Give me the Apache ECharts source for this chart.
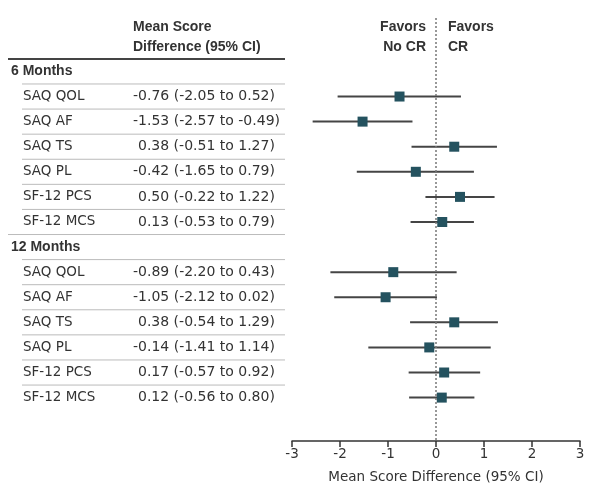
<!DOCTYPE html>
<html>
<head>
<meta charset="utf-8">
<script src="https://cdn.jsdelivr.net/npm/echarts@6/dist/echarts.min.js"></script>
<style>
    html, body { margin: 0; padding: 0; background: #fff; }
    #chart { width: 603px; height: 501px; }
</style>
</head>
<body>
<div id="chart"></div>
<script>
// data
var groups = ['6 Months', '12 Months'];
var measures = ['SAQ QOL', 'SAQ AF', 'SAQ TS', 'SAQ PL', 'SF-12 PCS', 'SF-12 MCS'];
var mean6 = [-0.76, -1.53, 0.38, -0.42, 0.50, 0.13];
var low6 = [-2.05, -2.57, -0.51, -1.65, -0.22, -0.53];
var high6 = [0.52, -0.49, 1.27, 0.79, 1.22, 0.79];
var mean12 = [-0.89, -1.05, 0.38, -0.14, 0.17, 0.12];
var low12 = [-2.20, -2.12, -0.54, -1.41, -0.57, -0.56];
var high12 = [0.43, 0.02, 1.29, 1.14, 0.92, 0.80];
var xMin = -3, xMax = 3, xStep = 1;

var REG = 'DejaVu Sans', BOLD = 'Liberation Sans', TXT = '#333';

// rows: group header then its measures
var rows = [];
var sets = [[mean6, low6, high6], [mean12, low12, high12]];
for (var g = 0; g < groups.length; g++) {
    rows.push({ kind: 'group', label: groups[g], first: g === 0 });
    for (var m = 0; m < measures.length; m++) {
        rows.push({ kind: 'item', label: measures[m], mean: sets[g][0][m], lo: sets[g][1][m], hi: sets[g][2][m] });
    }
}
var yLo = -2.13, yHi = rows.length - 1 + 1.73;

function fmt(v) { return (v < 0 ? '-' : '') + Math.abs(v).toFixed(2); }

var plotData = [], tableData = [];
rows.forEach(function (r, i) {
    tableData.push([0, i]);
    if (r.kind === 'item') plotData.push([r.mean, i, r.lo, r.hi]);
});

var chart = echarts.init(document.getElementById('chart'));

chart.setOption({
    animation: false,
    grid: [
        { left: 292, right: 23, top: 18, bottom: 60 },
        { left: 8, width: 277, top: 18, bottom: 60 }
    ],
    xAxis: [{
        gridIndex: 0, type: 'value', min: xMin, max: xMax, interval: xStep,
        axisLine: { onZero: false, lineStyle: { color: '#333', width: 1.5 } },
        axisTick: { length: 6, lineStyle: { color: '#333', width: 1.5 } },
        axisLabel: { color: TXT, fontFamily: REG, fontSize: 13.5, margin: 6 },
        splitLine: { show: false },
        name: 'Mean Score Difference (95% CI)', nameLocation: 'middle', nameGap: 29,
        nameTextStyle: { color: TXT, fontFamily: REG, fontSize: 13.5 }
    }, {
        gridIndex: 1, type: 'value', min: 0, max: 277, show: false
    }],
    yAxis: [
        { gridIndex: 0, type: 'value', min: yLo, max: yHi, inverse: true, show: false },
        { gridIndex: 1, type: 'value', min: yLo, max: yHi, inverse: true, show: false }
    ],
    graphic: [
        { type: 'text', left: 133, top: 20, style: { text: 'Mean Score', font: 'bold 14px ' + BOLD, fill: TXT } },
        { type: 'text', left: 133, top: 40, style: { text: 'Difference (95% CI)', font: 'bold 14px ' + BOLD, fill: TXT } },
        { type: 'text', right: 603 - 426, top: 20, style: { text: 'Favors', font: 'bold 14px ' + BOLD, fill: TXT, align: 'right' } },
        { type: 'text', right: 603 - 426, top: 40, style: { text: 'No CR', font: 'bold 14px ' + BOLD, fill: TXT, align: 'right' } },
        { type: 'text', left: 448, top: 20, style: { text: 'Favors', font: 'bold 14px ' + BOLD, fill: TXT } },
        { type: 'text', left: 448, top: 40, style: { text: 'CR', font: 'bold 14px ' + BOLD, fill: TXT } }
    ],
    series: [{
        // no-effect reference line at 0
        type: 'line', xAxisIndex: 0, yAxisIndex: 0,
        data: [[0, yLo], [0, yHi]], symbol: 'none', silent: true,
        lineStyle: { color: '#777', width: 1.5, type: [2, 2] }
    }, {
        type: 'custom', xAxisIndex: 0, yAxisIndex: 0,
        data: plotData,
        renderItem: function (params, api) {
            var c = api.coord([api.value(0), api.value(1)]);
            var a = api.coord([api.value(2), api.value(1)]);
            var b = api.coord([api.value(3), api.value(1)]);
            var s = 10;
            return {
                type: 'group',
                children: [
                    { type: 'line', shape: { x1: a[0], y1: a[1], x2: b[0], y2: b[1] }, style: { stroke: '#454545', lineWidth: 2 } },
                    { type: 'rect', shape: { x: c[0] - s / 2, y: c[1] - s / 2, width: s, height: s }, style: { fill: '#24525f' } }
                ]
            };
        }
    }, {
        // left-hand table
        type: 'custom', xAxisIndex: 1, yAxisIndex: 1,
        data: tableData,
        renderItem: function (params, api) {
            var r = rows[params.dataIndex];
            var p = api.coord([0, api.value(1)]);
            var h = api.size([0, 1])[1];
            var top = p[1] - h / 2;
            var right = api.coord([277, 0])[0];
            var kids = [];
            if (r.kind === 'group') {
                kids.push({ type: 'line', shape: { x1: p[0], y1: top, x2: right, y2: top },
                    style: { stroke: r.first ? '#444' : '#bbb', lineWidth: r.first ? 2 : 1 } });
                kids.push({ type: 'text', x: p[0] + 3, y: p[1],
                    style: { text: r.label, font: 'bold 14px ' + BOLD, fill: TXT, verticalAlign: 'middle' } });
            } else {
                kids.push({ type: 'line', shape: { x1: p[0] + 14, y1: top, x2: right, y2: top },
                    style: { stroke: '#bbb', lineWidth: 1 } });
                kids.push({ type: 'text', x: p[0] + 15, y: p[1],
                    style: { text: r.label, font: '13.5px ' + REG, fill: TXT, verticalAlign: 'middle' } });
                kids.push({ type: 'text', x: p[0] + 125 + (r.mean < 0 ? 0 : 5), y: p[1],
                    style: { text: fmt(r.mean) + ' (' + fmt(r.lo) + ' to ' + fmt(r.hi) + ')',
                        font: '14px ' + REG, fill: TXT, verticalAlign: 'middle' } });
            }
            return { type: 'group', children: kids };
        }
    }]
});
</script>
</body>
</html>
